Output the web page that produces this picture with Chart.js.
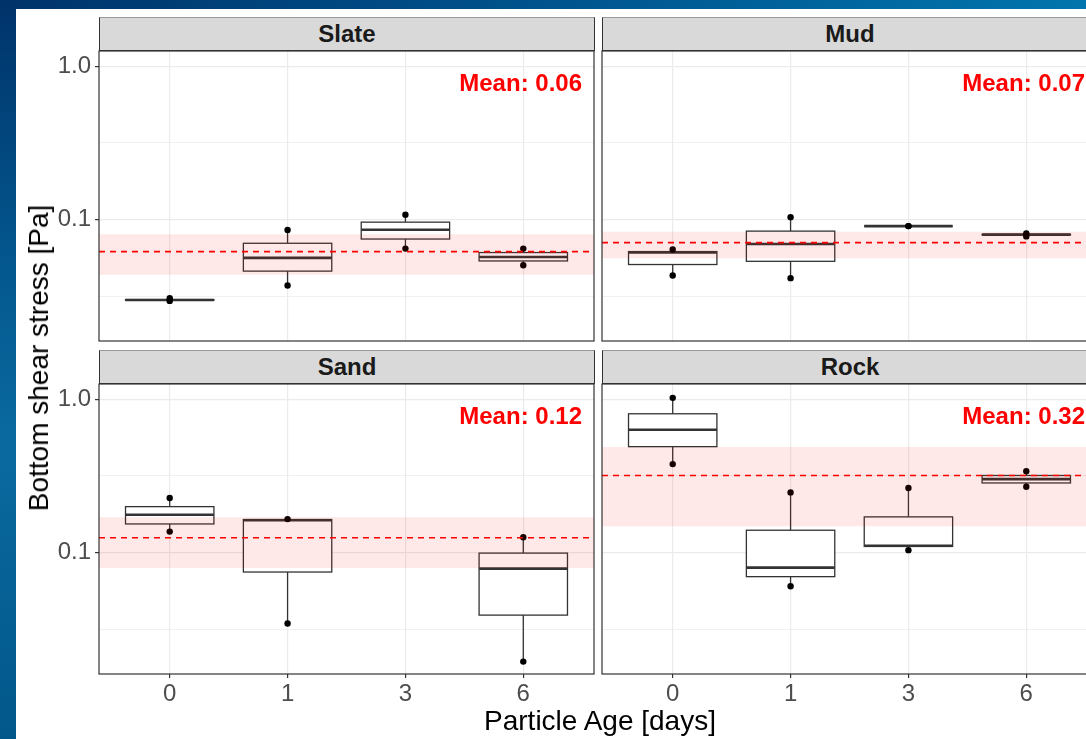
<!DOCTYPE html>
<html>
<head>
<meta charset="utf-8">
<script src="https://cdn.jsdelivr.net/npm/chart.js@4.4.0/dist/chart.umd.min.js"></script>
<style>
  html, body { margin: 0; padding: 0; width: 1086px; height: 739px; overflow: hidden; }
  body { position: relative; background: #014a80; font-family: "Liberation Sans", Arial, sans-serif; }
  #topband { position: absolute; left: 0; top: 0; width: 1086px; height: 9px;
    background: linear-gradient(90deg, #00336a 0%, #01508a 45%, #0175ad 100%); }
  #leftband { position: absolute; left: 0; top: 0; width: 16px; height: 739px;
    background: linear-gradient(180deg, #00336a 0%, #03578e 35%, #0a6aa0 60%, #02578a 100%); }
  #sheet { position: absolute; left: 16px; top: 9px; width: 1100px; height: 740px; background: #fff; }
  .strip { position: absolute; width: 496px; height: 34px; box-sizing: border-box;
    background: #d9d9d9; border: 1px solid #333; border-top-color: #9a9a9a;
    text-align: center; line-height: 32px; font-size: 24px; font-weight: bold; color: #1a1a1a; }
  canvas { position: absolute; }
  .title { position: absolute; font-size: 28px; line-height: 28px; color: #000; white-space: nowrap; }
</style>
</head>
<body>
<div id="topband"></div>
<div id="leftband"></div>
<div id="sheet"></div>

<div class="strip" style="left:99px; top:17px;">Slate</div>
<div class="strip" style="left:602px; top:17px;">Mud</div>
<div class="strip" style="left:99px; top:350px;">Sand</div>
<div class="strip" style="left:602px; top:350px;">Rock</div>

<canvas id="pSlate" width="590" height="300"></canvas>
<canvas id="pMud" width="510" height="300"></canvas>
<canvas id="pSand" width="590" height="340"></canvas>
<canvas id="pRock" width="510" height="340"></canvas>

<div class="title" style="left:600px; top:707px; transform: translateX(-50%);">Particle Age [days]</div>
<div class="title" style="left:39px; top:358px; transform: translate(-50%, -50%) rotate(-90deg);">Bottom shear stress [Pa]</div>

<script>
// categorias do eixo x (idade da partícula em dias)
const categories = ['0', '1', '3', '6'];
const facetNames = ['Slate', 'Mud', 'Sand', 'Rock'];

// cada linha: [min, q1, mediana, q3, max] por categoria (null = sem dados)
const slateStats = [
    [0.0294, 0.0297, 0.0298, 0.0300, 0.0306],
    [0.0371, 0.0460, 0.0561, 0.0699, 0.0853],
    [0.0645, 0.0745, 0.0857, 0.0960, 0.1073],
    [0.0502, 0.0536, 0.0569, 0.0608, 0.0645]
];
const mudStats = [
    [0.0431, 0.0508, 0.0608, 0.0617, 0.0636],
    [0.0414, 0.0533, 0.0691, 0.0839, 0.1035],
    [0.0905, 0.0905, 0.0905, 0.0905, 0.0905],
    [0.0775, 0.0793, 0.0796, 0.0799, 0.0810]
];
const sandStats = [
    [0.1368, 0.1534, 0.1760, 0.1990, 0.2266],
    [0.0344, 0.0745, 0.1620, 0.1640, 0.1650],
    null,
    [0.0194, 0.0390, 0.0784, 0.0990, 0.1257]
];
const rockStats = [
    [0.377, 0.490, 0.632, 0.803, 1.020],
    [0.0602, 0.0695, 0.0796, 0.1396, 0.2464],
    [0.1035, 0.1094, 0.1105, 0.1706, 0.263],
    [0.268, 0.284, 0.301, 0.3177, 0.339]
];

const meanValues = [0.0617, 0.0706, 0.1246, 0.318];
const meanLabels = ['Mean: 0.06', 'Mean: 0.07', 'Mean: 0.12', 'Mean: 0.32'];
const bandLow = [0.0435, 0.0558, 0.0791, 0.148];
const bandHigh = [0.0799, 0.0832, 0.1695, 0.488];

// ticks do eixo y (log)
const yTickValues = [0.0316, 0.1, 0.316, 1.0];
const yTickLabels = ['', '0.1', '', '1.0'];

const yMin = 0.0161, yMax = 1.256;
const xMin = 0.4, xMax = 4.6;
const boxHalf = 0.375;

Chart.defaults.font.family = '"Liberation Sans", Arial, sans-serif';
Chart.defaults.animation = false;

function zerarPadding(s) {
    s.paddingTop = 0; s.paddingBottom = 0; s.paddingLeft = 0; s.paddingRight = 0;
}

function montarConfig(idx, stats, showY, showX) {
    // pontos = extremos de cada caixa
    const pontos = [];
    stats.forEach((row, i) => {
        if (!row) return;
        pontos.push({ x: i + 1, y: row[0] });
        pontos.push({ x: i + 1, y: row[4] });
    });

    const caixas = {
        id: 'caixas',
        beforeDatasetsDraw(chart) {
            const { ctx, scales: { x, y } } = chart;
            ctx.save();
            ctx.strokeStyle = '#333333';
            stats.forEach((row, i) => {
                if (!row) return;
                const [lo, q1, med, q3, hi] = row;
                const xc = x.getPixelForValue(i + 1);
                const xl = x.getPixelForValue(i + 1 - boxHalf);
                const xr = x.getPixelForValue(i + 1 + boxHalf);
                // bigodes
                ctx.lineWidth = 1.3;
                ctx.beginPath();
                ctx.moveTo(xc, y.getPixelForValue(q3));
                ctx.lineTo(xc, y.getPixelForValue(hi));
                ctx.moveTo(xc, y.getPixelForValue(q1));
                ctx.lineTo(xc, y.getPixelForValue(lo));
                ctx.stroke();
                // caixa
                const yt = y.getPixelForValue(q3);
                const yb = y.getPixelForValue(q1);
                ctx.fillStyle = '#ffffff';
                ctx.fillRect(xl, yt, xr - xl, yb - yt);
                ctx.strokeRect(xl, yt, xr - xl, yb - yt);
                // mediana
                ctx.lineWidth = 2.6;
                ctx.beginPath();
                ctx.moveTo(xl, y.getPixelForValue(med));
                ctx.lineTo(xr, y.getPixelForValue(med));
                ctx.stroke();
            });
            ctx.restore();
        }
    };

    const textoMedia = {
        id: 'textoMedia',
        afterDatasetsDraw(chart) {
            const { ctx, chartArea } = chart;
            ctx.save();
            ctx.font = 'bold 24px "Liberation Sans", Arial, sans-serif';
            ctx.fillStyle = '#ff0000';
            ctx.textAlign = 'right';
            ctx.textBaseline = 'alphabetic';
            ctx.fillText(meanLabels[idx], chartArea.right - 12, chartArea.top + 40);
            ctx.restore();
        }
    };

    const borda = {
        id: 'borda',
        afterDraw(chart) {
            const { ctx, chartArea: a } = chart;
            ctx.save();
            ctx.strokeStyle = '#333333';
            ctx.lineWidth = 1.2;
            ctx.strokeRect(a.left, a.top, a.right - a.left, a.bottom - a.top);
            ctx.restore();
        }
    };

    return {
        type: 'line',
        data: {
            datasets: [
                {
                    label: 'media',
                    data: [{ x: xMin, y: meanValues[idx] }, { x: xMax, y: meanValues[idx] }],
                    borderColor: '#ff0000',
                    borderWidth: 1.6,
                    borderDash: [6, 5],
                    pointRadius: 0,
                    fill: false,
                    order: 1
                },
                {
                    label: 'faixaAlta',
                    data: [{ x: xMin, y: bandHigh[idx] }, { x: xMax, y: bandHigh[idx] }],
                    borderWidth: 0,
                    borderColor: 'rgba(0,0,0,0)',
                    pointRadius: 0,
                    backgroundColor: 'rgba(255,0,0,0.09)',
                    fill: '+1',
                    order: 2
                },
                {
                    label: 'faixaBaixa',
                    data: [{ x: xMin, y: bandLow[idx] }, { x: xMax, y: bandLow[idx] }],
                    borderWidth: 0,
                    borderColor: 'rgba(0,0,0,0)',
                    pointRadius: 0,
                    fill: false,
                    order: 2
                },
                {
                    type: 'scatter',
                    label: 'pontos',
                    data: pontos,
                    backgroundColor: '#000000',
                    borderWidth: 0,
                    pointRadius: 3.2,
                    order: 4
                }
            ]
        },
        options: {
            responsive: false,
            maintainAspectRatio: false,
            devicePixelRatio: 1,
            events: [],
            layout: { padding: 0 },
            plugins: { legend: { display: false }, tooltip: { enabled: false } },
            scales: {
                x: {
                    type: 'linear',
                    min: xMin,
                    max: xMax,
                    afterBuildTicks: s => { s.ticks = categories.map((c, i) => ({ value: i + 1 })); },
                    afterFit: s => { s.height = showX ? 36 : 0; zerarPadding(s); },
                    border: { display: false },
                    grid: {
                        color: '#ebebeb',
                        lineWidth: 1.2,
                        drawTicks: showX,
                        tickLength: 4,
                        tickColor: '#333333',
                        tickWidth: 1.2
                    },
                    ticks: {
                        display: showX,
                        padding: 2,
                        color: '#4d4d4d',
                        font: { size: 24 },
                        maxRotation: 0,
                        callback: (v, i) => categories[i]
                    }
                },
                y: {
                    type: 'logarithmic',
                    min: yMin,
                    max: yMax,
                    afterBuildTicks: s => { s.ticks = yTickValues.map(v => ({ value: v })); },
                    afterFit: s => { s.width = showY ? 83 : 0; zerarPadding(s); },
                    border: { display: false },
                    grid: {
                        color: '#ebebeb',
                        lineWidth: c => (yTickLabels[c.index] ? 1.2 : 0.7),
                        drawTicks: showY,
                        tickLength: 4,
                        tickColor: c => (yTickLabels[c.index] ? '#333333' : 'rgba(0,0,0,0)'),
                        tickWidth: 1.2
                    },
                    ticks: {
                        display: showY,
                        padding: 4,
                        color: '#4d4d4d',
                        font: { size: 24 },
                        autoSkip: false,
                        callback: (v, i) => yTickLabels[i]
                    }
                }
            }
        },
        plugins: [caixas, textoMedia, borda]
    };
}

// painel = retângulo da área de plotagem na página
function criarPainel(canvasId, idx, stats, showY, showX, painel) {
    const canvas = document.getElementById(canvasId);

    // primeira passada: mede as margens internas que o Chart.js reserva
    let grafico = new Chart(canvas, montarConfig(idx, stats, showY, showX));
    const a = grafico.chartArea;
    const mL = a.left, mT = a.top;
    const mR = canvas.width - a.right, mB = canvas.height - a.bottom;
    grafico.destroy();

    canvas.width = Math.round(mL + painel.w + mR);
    canvas.height = Math.round(mT + painel.h + mB);
    canvas.style.left = (painel.x - mL) + 'px';
    canvas.style.top = (painel.y - mT) + 'px';

    grafico = new Chart(canvas, montarConfig(idx, stats, showY, showX));
    const b = grafico.chartArea;
    canvas.style.left = (painel.x - b.left) + 'px';
    canvas.style.top = (painel.y - b.top) + 'px';
    return grafico;
}

criarPainel('pSlate', 0, slateStats, true, false, { x: 99, y: 51, w: 495, h: 290 });
criarPainel('pMud', 1, mudStats, false, false, { x: 602, y: 51, w: 495, h: 290 });
criarPainel('pSand', 2, sandStats, true, true, { x: 99, y: 384, w: 495, h: 290 });
criarPainel('pRock', 3, rockStats, false, true, { x: 602, y: 384, w: 495, h: 290 });
</script>
</body>
</html>
